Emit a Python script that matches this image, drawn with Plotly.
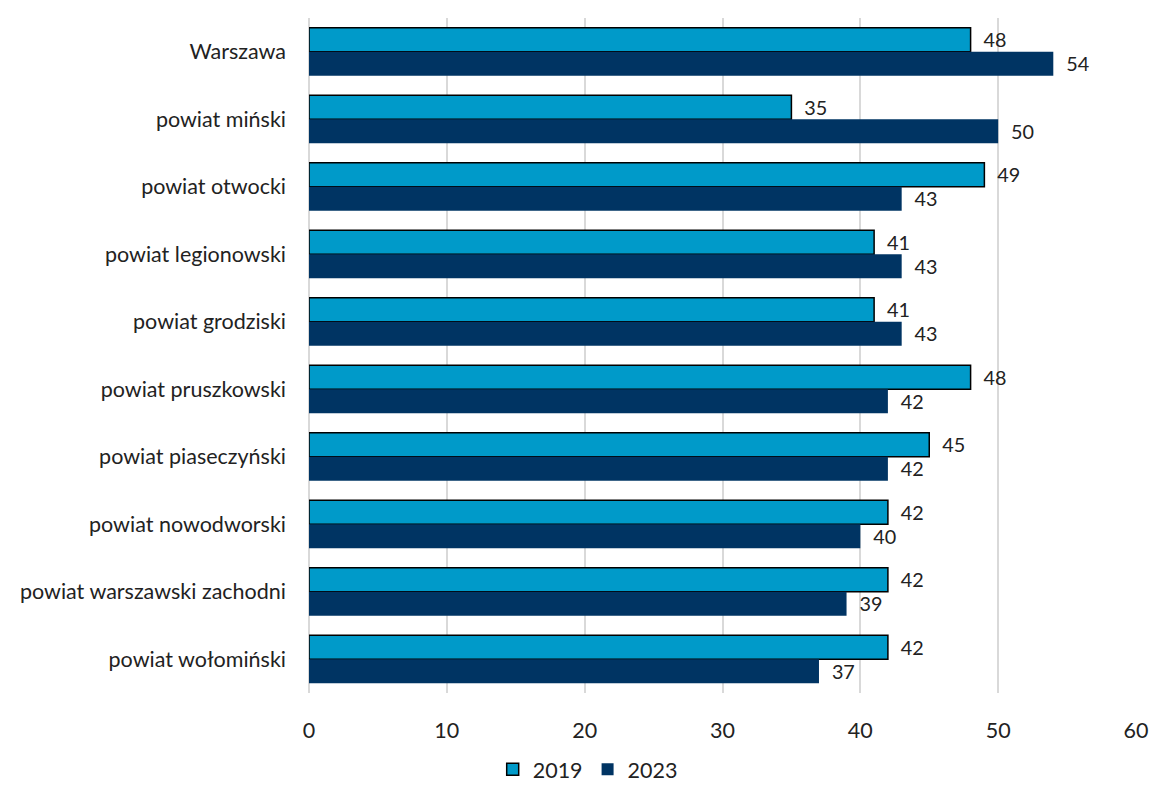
import plotly.graph_objects as go

categories = ["Warszawa", "powiat miński", "powiat otwocki", "powiat legionowski",
              "powiat grodziski", "powiat pruszkowski", "powiat piaseczyński",
              "powiat nowodworski", "powiat warszawski zachodni", "powiat wołomiński"]
values_2019 = [48, 35, 49, 41, 41, 48, 45, 42, 42, 42]
values_2023 = [54, 50, 43, 43, 43, 42, 42, 40, 39, 37]
x_ticks = [0, 10, 20, 30, 40, 50, 60]

FONT = "Lato, Carlito, Calibri, sans-serif"
FS = 21.5

fig = go.Figure()
fig.add_trace(go.Bar(
    name="2019", y=categories, x=values_2019, orientation="h",
    marker=dict(color="#009AC9", line=dict(color="#000000", width=1.5)),
    text=values_2019, texttemplate="\u2002%{x}", textposition="outside", cliponaxis=False,
    textfont=dict(size=FS, color="#222222", family=FONT),
))
fig.add_trace(go.Bar(
    name="2023", y=categories, x=values_2023, orientation="h",
    marker=dict(color="#003463", line=dict(color="#003463", width=0)),
    text=values_2023, texttemplate="\u2002%{x}", textposition="outside", cliponaxis=False,
    textfont=dict(size=FS, color="#222222", family=FONT),
))

fig.update_layout(
    width=1151, height=785,
    barmode="group", bargap=0.29, bargroupgap=0,
    plot_bgcolor="white", paper_bgcolor="white",
    margin=dict(l=309, r=15, t=18, b=92, autoexpand=False),
    font=dict(family=FONT, size=FS, color="#222222"),
    xaxis=dict(range=[0, 60], tickvals=x_ticks, showgrid=True, gridcolor="#D9D9D9",
               gridwidth=1.5, zeroline=True, zerolinecolor="#D9D9D9", zerolinewidth=1.5,
               showline=False, ticks="", tickfont=dict(size=FS), ticklabelstandoff=22,
               automargin=False),
    yaxis=dict(autorange="reversed", showgrid=False, ticks="", showline=False,
               tickfont=dict(size=FS), ticklabelstandoff=22, automargin=False),
    legend=dict(orientation="h", x=0.337, xanchor="center", y=-0.113, yanchor="middle",
                font=dict(size=FS), itemwidth=30, traceorder="normal"),
)

fig.write_html("out.html", config={"displayModeBar": False},
               post_script="document.body.style.margin='0';document.body.style.padding='0';")
